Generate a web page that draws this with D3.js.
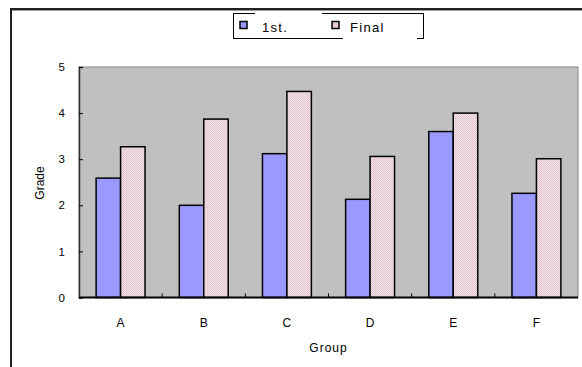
<!DOCTYPE html>
<html><head><meta charset="utf-8">
<script src="https://cdn.jsdelivr.net/npm/d3@7"></script>
<style>body{margin:0;background:#fff}svg{display:block}text{font-family:"Liberation Sans",Arial,sans-serif;fill:#000}</style>
</head><body>
<script>
const categories = ["A","B","C","D","E","F"];
const seriesNames = ["1st.","Final"];
const firstValues = [2.59, 2.0, 3.12, 2.13, 3.6, 2.26];
const finalValues = [3.27, 3.87, 4.47, 3.06, 4.0, 3.01];
const yTicks = [0,1,2,3,4,5];
const xTitle = "Group", yTitle = "Grade";

(function(){
const W = 582, H = 367;
const svg = d3.select("body").append("svg").attr("width", W).attr("height", H);
const defs = svg.append("defs");
const pat = defs.append("pattern").attr("id","pinkdots").attr("patternUnits","userSpaceOnUse").attr("width",2).attr("height",2);
pat.append("rect").attr("width",2).attr("height",2).attr("fill","#f2e4ea");
pat.append("rect").attr("width",1).attr("height",1).attr("fill","#e2c4d0");
pat.append("rect").attr("x",1).attr("y",1).attr("width",1).attr("height",1).attr("fill","#e2c4d0");

const colors = ["#9999ff","url(#pinkdots)"];
const legendColors = ["#9999ff","#e6cbd6"];

// frame
svg.append("line").attr("x1",11).attr("x2",11).attr("y1",9).attr("y2",H).attr("stroke","#222").attr("stroke-width",2);
svg.append("line").attr("x1",10).attr("x2",W).attr("y1",9).attr("y2",9).attr("stroke","#222").attr("stroke-width",2);
svg.append("line").attr("x1",12).attr("x2",W).attr("y1",10.5).attr("y2",10.5).attr("stroke","#999").attr("stroke-width",1);

const pLeft = 79, pRight = 578, pTop = 67, pBottom = 297.5;
const x0 = d3.scaleBand().domain(categories).range([pLeft, pRight]).padding(0);
const x1 = d3.scaleBand().domain(seriesNames).range([0, x0.bandwidth()]).paddingInner(0).paddingOuter(0.7);
const y = d3.scaleLinear().domain([0,5]).range([pBottom, pTop]);

// plot area
svg.append("rect").attr("x",pLeft).attr("y",pTop).attr("width",pRight-pLeft).attr("height",pBottom-pTop)
  .attr("fill","#c0c0c0").attr("stroke","#888").attr("stroke-width",1);

const data = categories.map((c,i)=>({cat:c, vals:[firstValues[i], finalValues[i]]}));
const g = svg.append("g");
data.forEach(d=>{
  d.vals.forEach((v,j)=>{
    g.append("rect").attr("x", x0(d.cat)+x1(seriesNames[j])).attr("y", y(v))
      .attr("width", x1.bandwidth()).attr("height", y(0)-y(v))
      .attr("fill", colors[j]).attr("stroke","#000").attr("stroke-width",1.5);
  });
});

// y axis
const yAxis = d3.axisLeft(y).tickValues(yTicks).tickSize(-4).tickPadding(14).tickFormat(d3.format("d"));
const ya = svg.append("g").attr("transform",`translate(${pLeft},0)`).call(yAxis);
ya.select(".domain").attr("stroke","#333").attr("stroke-width",1.5);
ya.selectAll(".tick line").attr("stroke","#000");
ya.selectAll("text").attr("font-size",11.5).attr("font-family","Liberation Sans, Arial, sans-serif").attr("fill","#000");

// x axis
const xa = svg.append("g").attr("transform",`translate(0,${pBottom})`);
xa.append("line").attr("x1",pLeft).attr("x2",pRight).attr("stroke","#000").attr("stroke-width",2);
categories.slice(1).forEach(c=>{
  xa.append("line").attr("x1",x0(c)).attr("x2",x0(c)).attr("y1",0).attr("y2",-4).attr("stroke","#000");
});
categories.forEach(c=>{
  xa.append("text").attr("x",x0(c)+x0.bandwidth()/2).attr("y",29).attr("text-anchor","middle")
    .attr("font-size",12).text(c);
});

svg.append("text").attr("x",(pLeft+pRight)/2).attr("y",352).attr("text-anchor","middle")
  .attr("font-size",12).attr("letter-spacing",1).text(xTitle);
svg.append("text").attr("transform","translate(44,183) rotate(-90)").attr("text-anchor","middle")
  .attr("font-size",12).text(yTitle);

// legend
const lg = svg.append("g");
const lx0 = 233, lx1 = 423, ly0 = 13, ly1 = 38;
const seg = (a,b,c,d)=>lg.append("line").attr("x1",a).attr("y1",b).attr("x2",c).attr("y2",d).attr("stroke","#000").attr("stroke-width",1);
seg(lx0+0.5, ly0, lx0+0.5, ly1);
seg(lx1+0.5, ly0, lx1+0.5, ly1);
seg(lx0, ly0+0.5, 255, ly0+0.5);
seg(322, ly0+0.5, lx1+1, ly0+0.5);
seg(lx0, ly1+0.5, 343, ly1+0.5);
seg(417, ly1+0.5, lx1+1, ly1+0.5);
const legX = [240, 332], legTX = [262, 350];
seriesNames.forEach((s,i)=>{
  lg.append("rect").attr("x",legX[i]).attr("y",21.5).attr("width",7).attr("height",7)
    .attr("fill",legendColors[i]).attr("stroke","#000").attr("stroke-width",1.5);
  lg.append("text").attr("x",legTX[i]).attr("y",31.5).attr("font-size",13).attr("letter-spacing",1.3).text(s);
});
})();
</script>
</body></html>
